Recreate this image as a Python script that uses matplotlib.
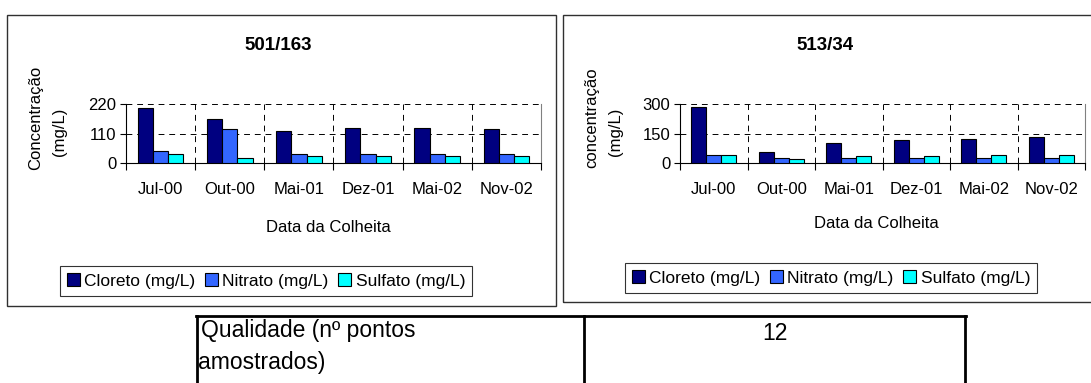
import numpy as np
import matplotlib
matplotlib.use('Agg')
from matplotlib import pyplot as plt
from matplotlib.patches import Rectangle, Patch
from matplotlib.lines import Line2D

plt.rcParams['font.family'] = ['Liberation Sans', 'DejaVu Sans']

W, H = 1091, 383
FS = 12  # tamanho padrão do texto dos gráficos

datas = ['Jul-00', 'Out-00', 'Mai-01', 'Dez-01', 'Mai-02', 'Nov-02']
series = ['Cloreto (mg/L)', 'Nitrato (mg/L)', 'Sulfato (mg/L)']
cores = ['#000080', '#3366FF', '#00FFFF']

# poço 501/163
cloreto_501 = [205, 163, 120, 130, 130, 125]
nitrato_501 = [44, 128, 34, 34, 34, 34]
sulfato_501 = [34, 19, 25, 25, 25, 25]

# poço 513/34
cloreto_513 = [287, 56, 104, 118, 124, 130]
nitrato_513 = [42, 27, 25, 25, 25, 25]
sulfato_513 = [42, 21, 34, 34, 42, 42]


def fx(px):
    return px / W


def fy(py):
    return 1 - py / H


def frame(x0, y0, x1, y1, lw=1.0, color='black'):
    fig.add_artist(Rectangle((fx(x0), fy(y1)), fx(x1) - fx(x0), fy(y0) - fy(y1),
                             transform=fig.transFigure, fill=False,
                             lw=lw, edgecolor=color, zorder=0))


def hline(x0, x1, y, lw=2):
    fig.add_artist(Line2D([fx(x0), fx(x1)], [fy(y), fy(y)],
                          transform=fig.transFigure, color='black', lw=lw))


def vline(x, y0, y1, lw=2):
    fig.add_artist(Line2D([fx(x), fx(x)], [fy(y0), fy(y1)],
                          transform=fig.transFigure, color='black', lw=lw))


def grafico(left, right, ymax, valores, titulo, ylab, tx, xlab_x, xlab_y,
            ylab_x, leg_c):
    ax = fig.add_axes([fx(left), fy(163), fx(right) - fx(left), (163 - 104) / H])
    x = np.arange(len(datas))
    w = 0.22
    for i, (vals, cor) in enumerate(zip(valores, cores)):
        ax.bar(x + (i - 1) * w, vals, w, color=cor, edgecolor='black',
               linewidth=0.8, zorder=3)
    ax.set_xlim(-0.5, 5.5)
    ax.set_ylim(0, ymax)
    ax.set_yticks([0, ymax / 2, ymax])
    ax.set_yticklabels(['0', str(ymax // 2), str(ymax)], fontsize=FS)
    ax.set_xticks(np.arange(-0.5, 6, 1))
    ax.set_xticklabels([])
    ax.set_xticks(x, minor=True)
    ax.set_xticklabels(datas, minor=True, fontsize=FS)
    ax.tick_params(axis='x', which='major', direction='out', length=5, width=0.8)
    ax.tick_params(axis='x', which='minor', length=0, pad=14)
    ax.tick_params(axis='y', direction='out', length=4, width=0.8, pad=3)
    ax.grid(True, which='major', color='black', linestyle=(0, (6, 5)),
            linewidth=0.7, zorder=0)
    ax.spines['top'].set_visible(False)
    ax.spines['right'].set_color('#808080')
    for s in ('left', 'bottom'):
        ax.spines[s].set_linewidth(0.8)

    fig.text(fx(tx), fy(45), titulo, ha='center', va='center',
             fontsize=13.5, fontweight='bold')
    fig.text(fx(ylab_x), fy(118), ylab, rotation=90, ha='center', va='center',
             fontsize=FS)
    fig.text(fx(ylab_x + 24), fy(132), '(mg/L)', rotation=90, ha='center',
             va='center', fontsize=FS)
    fig.text(fx(xlab_x), fy(xlab_y), 'Data da Colheita', ha='center',
             va='center', fontsize=FS)

    handles = [Patch(facecolor=c, edgecolor='black', linewidth=0.8) for c in cores]
    leg = fig.legend(handles, series, loc='center',
                     bbox_to_anchor=(fx(leg_c[0]), fy(leg_c[1])),
                     ncol=3, frameon=True, fancybox=False, fontsize=12.5,
                     handlelength=0.75, handleheight=0.75, handletextpad=0.25,
                     columnspacing=0.55, borderpad=0.4, borderaxespad=0)
    leg.get_frame().set_edgecolor('black')
    leg.get_frame().set_linewidth(0.8)
    return ax


fig = plt.figure(figsize=(W / 100, H / 100), dpi=100)

# molduras dos gráficos
frame(7, 15, 556, 306, color='#303030')
frame(563, 15, 1100, 302, color='#303030')

grafico(126, 541, 220, [cloreto_501, nitrato_501, sulfato_501], '501/163',
        'Concentração', 278, 328, 228, 36, (266, 281))
grafico(680, 1085, 300, [cloreto_513, nitrato_513, sulfato_513], '513/34',
        'concentração', 825, 876, 223, 592, (831, 278))

# tabela abaixo dos gráficos
hline(196, 966, 316)
vline(197, 316, 390)
vline(584, 316, 390)
vline(965, 316, 390)
fig.text(fx(201), fy(330), 'Qualidade (nº pontos', ha='left', va='center',
         fontsize=16.5)
fig.text(fx(198), fy(362), 'amostrados)', ha='left', va='center', fontsize=16.5)
fig.text(fx(775), fy(334), '12', ha='center', va='center', fontsize=16.5)

fig.savefig('out.png', dpi=100)
